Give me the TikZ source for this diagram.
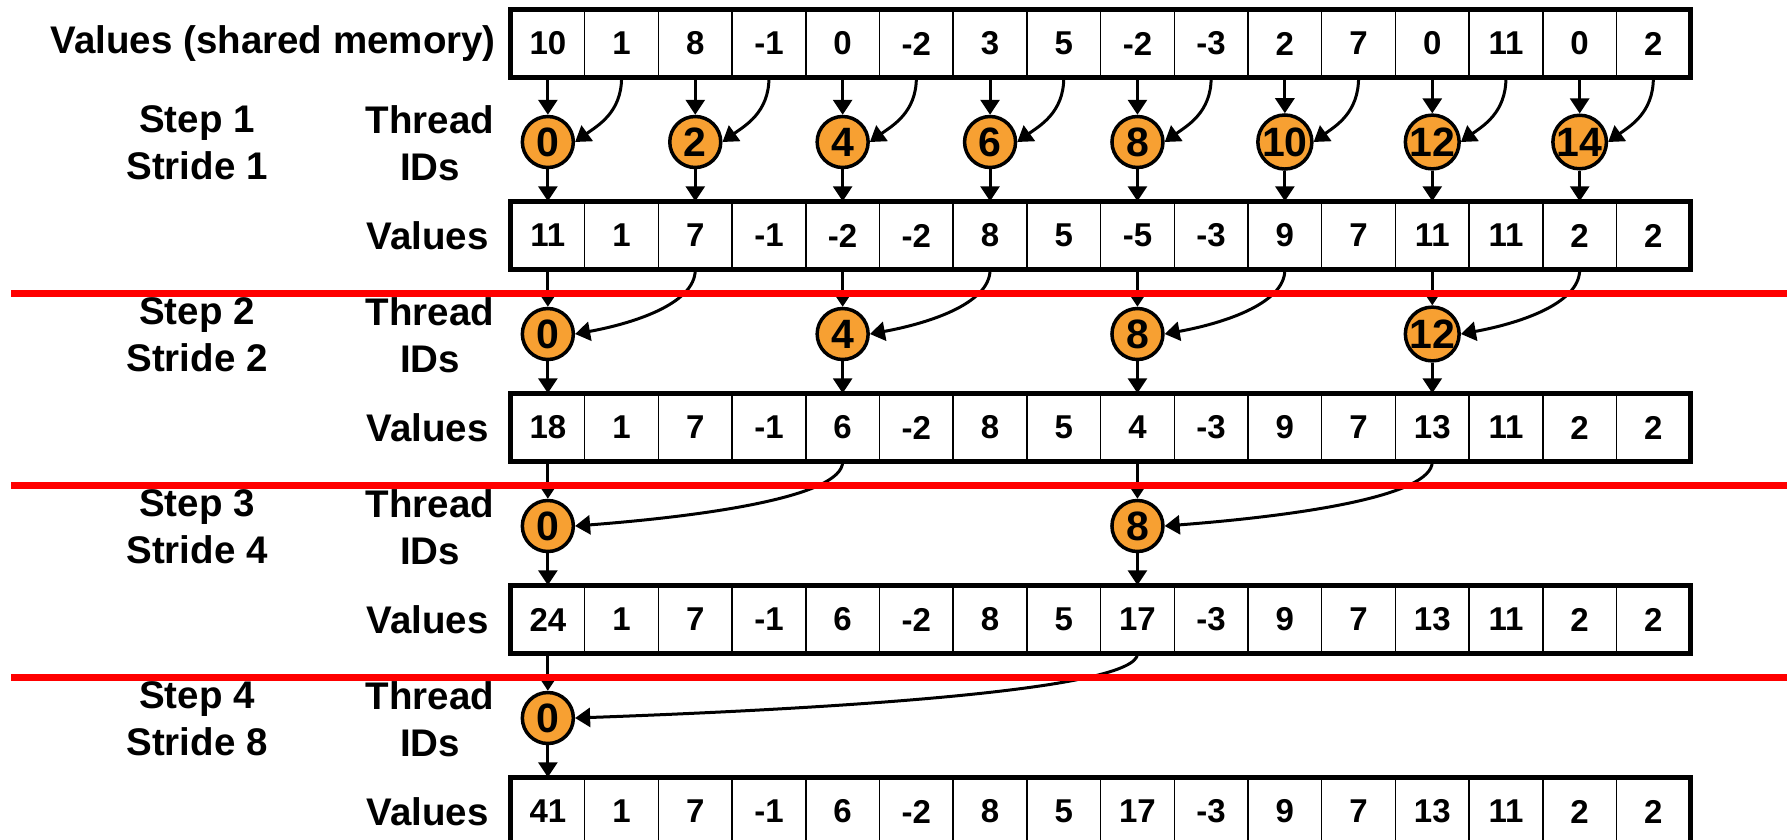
\documentclass[tikz,border=0pt]{standalone}
\usepackage{fontspec}
\setmainfont{Liberation Sans}
\usetikzlibrary{arrows.meta}
\definecolor{thrd}{RGB}{247,160,50}
\definecolor{redline}{RGB}{255,0,0}
\begin{document}
\begin{tikzpicture}[x=1pt,y=-1pt,
  cell/.style={draw, line width=1.5pt, minimum width=73.7pt, minimum height=67pt, inner sep=0pt, font=\bfseries\fontsize{33}{36}\selectfont},
  thread/.style={circle, draw, line width=3.5pt, fill=thrd, minimum size=51pt, inner sep=0pt, font=\bfseries\fontsize{41}{41}\selectfont},
  arr/.style={line width=3pt, -{Triangle[width=19pt,length=15pt]}},
  lbl/.style={inner sep=0pt, font=\bfseries\fontsize{38.5}{47}\selectfont, align=center},
  sep/.style={draw=redline, line width=7pt}]
\useasboundingbox (0,0) rectangle (1787,839);
\clip (0,0) rectangle (1787,839);
% arrays
\foreach \k/\vals in {0/{10,1,8,-1,0,-2,3,5,-2,-3,2,7,0,11,0,2},
                      1/{11,1,7,-1,-2,-2,8,5,-5,-3,9,7,11,11,2,2},
                      2/{18,1,7,-1,6,-2,8,5,4,-3,9,7,13,11,2,2},
                      3/{24,1,7,-1,6,-2,8,5,17,-3,9,7,13,11,2,2},
                      4/{41,1,7,-1,6,-2,8,5,17,-3,9,7,13,11,2,2}}{
  \foreach \v [count=\i from 0] in \vals {
    \node[cell] (c-\k-\i) at ({511+73.7*(\i+0.5)}, {10+192*\k+33.5}) {\v};
  }
  \draw[line width=5pt] (c-\k-0.north west) rectangle (c-\k-15.south east);
}
% row labels
\node[lbl, anchor=east] (lab-0) at (496,43.5) {Values (shared memory)};
\foreach \k in {1,...,4}{
  \node[lbl, anchor=east] (lab-\k) at (489,{10+192*\k+33.5}) {Values};
}
% steps
\foreach \s/\st/\b/\c/\list in {1/1/22/-16/{0,2,4,6,8,10,12,14},
                                2/2/55/-10/{0,4,8,12},
                                3/4/130/-10/{0,8},
                                4/8/280/-10/{0}}{
  \pgfmathtruncatemacro\prev{\s-1}
  \node[lbl] (thr-\s) at (430,{10+192*\prev+133}) {Thread\\IDs};
  \node[lbl] (stp-\s) at (197,{10+192*\prev+133}) {Step \s\\Stride \st};
  \foreach \i in \list {
    \pgfmathtruncatemacro\j{\i+\st}
    \node[thread] (t-\s-\i) at ({511+73.7*(\i+0.5)}, {10+192*\prev+132}) {\i};
    \draw[arr] (c-\prev-\i.south) -- (t-\s-\i.north);
    \draw[arr] (t-\s-\i.south) -- (c-\s-\i.north);
    \draw[arr] (c-\prev-\j.south) .. controls +(0,35) and +(\b,\c) .. (t-\s-\i.east);
  }
}
% separators
\foreach \k in {1,2,3}{
  \draw[sep] (11,{10+192*\k+91}) -- (1787,{10+192*\k+91});
}
\end{tikzpicture}
\end{document}
